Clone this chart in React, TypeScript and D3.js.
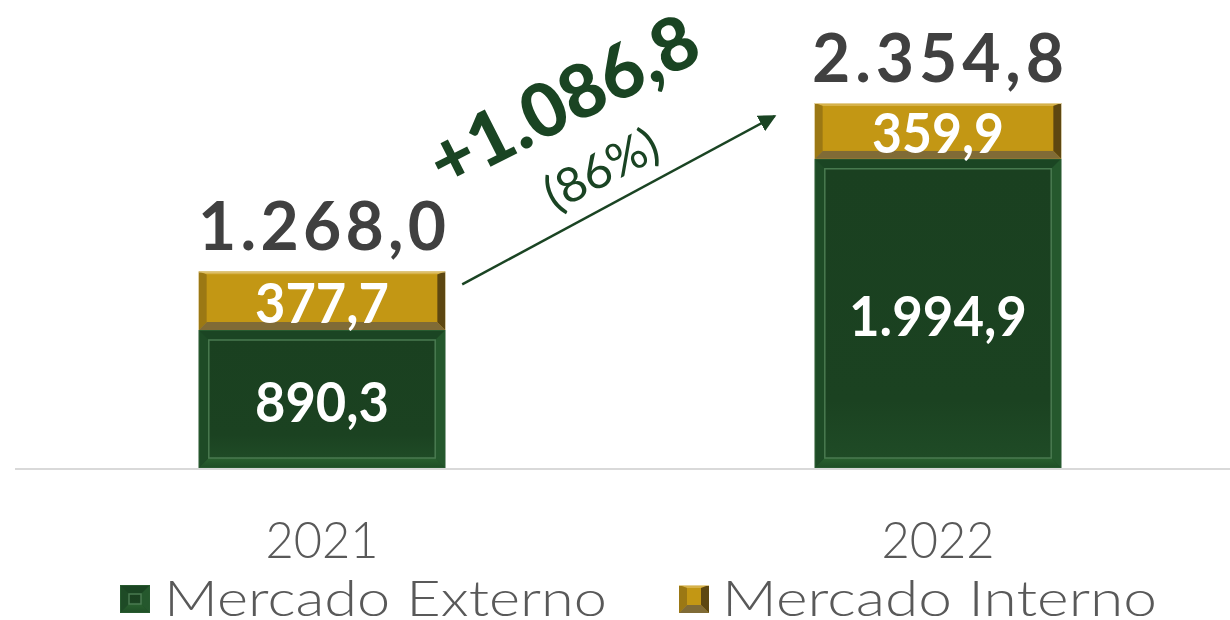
import React from "react";
import * as d3 from "d3";

const years = ["2021", "2022"];
const externo = [890.3, 1994.9];
const interno = [377.7, 359.9];
const totals = [1268.0, 2354.8];
const externoLabels = ["890,3", "1.994,9"];
const internoLabels = ["377,7", "359,9"];
const totalLabels = ["1.268,0", "2.354,8"];
const legendNames = ["Mercado Externo", "Mercado Interno"];
const growthLabel = "+1.086,8";
const growthPct = "(86%)";

const W = 1230;
const H = 620;
const GOLD = "#c39714";
const DARK = "#1a4423";

function GreenBox({ x, y, w, h, b = 10 }: { x: number; y: number; w: number; h: number; b?: number }) {
  const x2 = x + w, y2 = y + h;
  const ix = x + b, iy = y + b, ix2 = x2 - b, iy2 = y2 - b;
  return (
    <g>
      <rect x={x} y={y} width={w} height={h} fill="#1d4a25" />
      <polygon points={`${x},${y} ${x2},${y} ${ix2},${iy} ${ix},${iy}`} fill="#1b4523" />
      <polygon points={`${x},${y} ${ix},${iy} ${ix},${iy2} ${x},${y2}`} fill="#1e4b26" />
      <polygon points={`${x2},${y} ${x2},${y2} ${ix2},${iy2} ${ix2},${iy}`} fill="#25582d" />
      <polygon points={`${x},${y2} ${ix},${iy2} ${ix2},${iy2} ${x2},${y2}`} fill="url(#gBottom)" />
      <rect x={ix} y={iy} width={Math.max(0, ix2 - ix)} height={Math.max(0, iy2 - iy)} fill="url(#gFace)" stroke="#4a7a50" strokeWidth={1.5} />
      <rect x={x + 0.5} y={y + 0.5} width={w - 1} height={h - 1} fill="none" stroke="#275a2f" strokeWidth={1} />
    </g>
  );
}

function GoldBox({ x, y, w, h, b = 8 }: { x: number; y: number; w: number; h: number; b?: number }) {
  const x2 = x + w, y2 = y + h;
  const ix = x + b, iy = y + 3, ix2 = x2 - b, iy2 = y2 - b;
  return (
    <g>
      <rect x={x} y={y} width={w} height={h} fill={GOLD} />
      <polygon points={`${x},${y} ${x2},${y} ${ix2},${iy} ${ix},${iy}`} fill="#d6b24a" />
      <polygon points={`${x},${y} ${ix},${iy} ${ix},${iy2} ${x},${y2}`} fill="#9b7814" />
      <polygon points={`${x2},${y} ${x2},${y2} ${ix2},${iy2} ${ix2},${iy}`} fill="#5d4711" />
      <polygon points={`${x},${y2} ${ix},${iy2} ${ix2},${iy2} ${x2},${y2}`} fill="#806b36" />
      <rect x={ix} y={iy} width={Math.max(0, ix2 - ix)} height={Math.max(0, iy2 - iy)} fill={GOLD} />
      <line x1={x} x2={x2} y1={y + 0.5} y2={y + 0.5} stroke="#e4cf93" strokeWidth={1} />
    </g>
  );
}

export default function App() {
  const x = d3.scaleBand<string>().domain(years).range([14, 1246]).paddingInner(0.6).paddingOuter(0.3);
  const y = d3.scaleLinear().domain([0, 2354.8]).range([468, 103]);
  const bw = x.bandwidth();

  const bold = "Lato, 'Noto Sans', sans-serif";

  const bars = years.map((yr, i) => {
    const x0 = x(yr)!;
    const cx = x0 + bw / 2;
    const yE = y(externo[i]);
    const yT = y(externo[i] + interno[i]);
    return { yr, i, x0, cx, yE, yT };
  });

  const a0 = [bars[0].x0 + bw + 17, y(externo[0] + interno[0]) + 13];
  const a1 = [bars[1].x0 - 40, y(totals[1]) + 13];
  const ang = (Math.atan2(a1[1] - a0[1], a1[0] - a0[0]) * 180) / Math.PI;

  return (
    <svg width={W} height={H} style={{ position: "absolute", left: 0, top: 0 }}>
      <defs>
        <linearGradient id="gFace" x1="0" y1="0" x2="0" y2="1">
          <stop offset="0" stopColor="#1a4020" />
          <stop offset="0.8" stopColor="#1b4221" />
          <stop offset="1" stopColor="#1f4b26" />
        </linearGradient>
        <linearGradient id="gBottom" x1="0" y1="0" x2="0" y2="1">
          <stop offset="0" stopColor="#29602f" />
          <stop offset="1" stopColor="#1f4e26" />
        </linearGradient>
        <marker id="arr" viewBox="0 0 10 10" refX="9" refY="5" markerWidth="7" markerHeight="7" orient="auto">
          <path d="M0,0 L10,5 L0,10 Z" fill={DARK} />
        </marker>
      </defs>
      <rect width={W} height={H} fill="#ffffff" />

      <line x1={15} x2={1230} y1={y(0) + 1} y2={y(0) + 1} stroke="#d9d9d9" strokeWidth={2} />

      {bars.map((b) => (
        <g key={b.yr}>
          <GreenBox x={b.x0} y={b.yE} w={bw} h={y(0) - b.yE} />
          <GoldBox x={b.x0} y={b.yT} w={bw} h={b.yE - b.yT} />
          <text x={b.cx} y={(b.yE + y(0)) / 2 + 23} textAnchor="middle" fill="#ffffff" fontFamily={bold} fontWeight={700} fontSize={56} textLength={b.i === 0 ? 134 : 178} lengthAdjust="spacingAndGlyphs">
            {externoLabels[b.i]}
          </text>
          <text x={b.cx} y={(b.yT + b.yE) / 2 + 22} textAnchor="middle" fill="#ffffff" fontFamily={bold} fontWeight={700} fontSize={56} textLength={b.i === 0 ? 134 : 132} lengthAdjust="spacingAndGlyphs">
            {internoLabels[b.i]}
          </text>
          <text x={b.cx} y={y(totals[b.i]) - 21} textAnchor="middle" fill="#404040" fontFamily={bold} fontWeight={700} fontSize={66} textLength={b.i === 0 ? 248 : 252} lengthAdjust="spacing">
            {totalLabels[b.i]}
          </text>
          <text x={b.cx} y={558} textAnchor="middle" fill="#595959" fontFamily="Lato, sans-serif" fontWeight={300} fontSize={52} textLength={113} lengthAdjust="spacingAndGlyphs">
            {b.yr}
          </text>
        </g>
      ))}

      <line x1={a0[0]} y1={a0[1]} x2={a1[0]} y2={a1[1]} stroke={DARK} strokeWidth={2.5} markerEnd="url(#arr)" />
      <g transform={`translate(575,124) rotate(${ang + 1.5})`}>
        <text x={0} y={0} textAnchor="middle" fill={DARK} fontFamily={bold} fontWeight={900} fontSize={74} textLength={292} lengthAdjust="spacingAndGlyphs">
          {growthLabel}
        </text>
      </g>
      <g transform={`translate(609,184) rotate(${ang + 1})`}>
        <text x={0} y={0} textAnchor="middle" fill={DARK} fontFamily="Lato, sans-serif" fontWeight={400} fontSize={48} textLength={122} lengthAdjust="spacingAndGlyphs">
          {growthPct}
        </text>
      </g>

      <g>
        <GreenBox x={120} y={585} w={30} h={28} b={9} />
        <text x={164} y={616} fill="#595959" fontFamily="Lato, sans-serif" fontWeight={300} fontSize={50} textLength={443} lengthAdjust="spacingAndGlyphs">
          {legendNames[0]}
        </text>
        <GoldBox x={679} y={585} w={30} h={28} b={8} />
        <text x={722} y={616} fill="#595959" fontFamily="Lato, sans-serif" fontWeight={300} fontSize={50} textLength={435} lengthAdjust="spacingAndGlyphs">
          {legendNames[1]}
        </text>
      </g>
    </svg>
  );
}
